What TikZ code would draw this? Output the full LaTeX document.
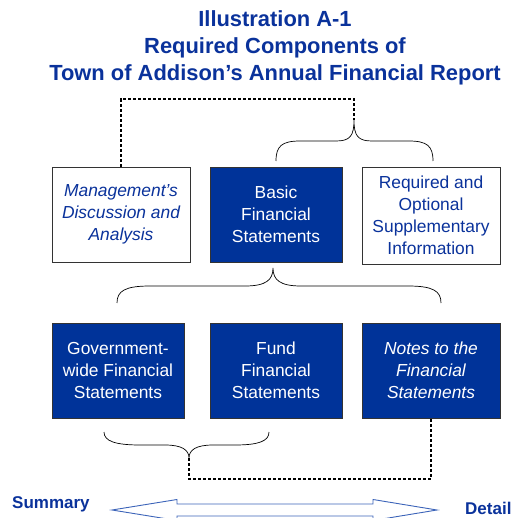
\documentclass[tikz,border=0pt]{standalone}
\usepackage{fontspec}
\setmainfont{Liberation Sans}
\definecolor{darkblue}{RGB}{0,51,153}
\definecolor{titleblue}{RGB}{10,50,155}
\definecolor{arrowblue}{RGB}{60,100,185}
\begin{document}
\begin{tikzpicture}[x=1pt,y=-1pt,
  box/.style={draw=black!80,line width=0.8pt,minimum width=#1,minimum height=95pt,inner sep=0pt,align=center,font=\fontsize{17.4}{22}\selectfont},
  whitebox/.style={box=#1,fill=white,text=titleblue},
  bluebox/.style={box=#1,fill=darkblue,text=white},
  brace/.style={draw=black,line width=0.7pt},
  dashline/.style={draw=black,line width=1.4pt,dash pattern=on 3pt off 2pt},
  ttl/.style={font=\fontsize{21.9}{27}\selectfont\bfseries,text=titleblue,align=center},
  lbl/.style={font=\fontsize{17}{20}\selectfont\bfseries,text=titleblue,inner sep=1pt}]
\useasboundingbox (0,0) rectangle (527,518);
\node[ttl] (title) at (275,48) {Illustration A-1\\Required Components of\\Town of Addison’s Annual Financial Report};
% top row
\node[whitebox=138pt] (mda) at (121,214.5) {\itshape Management’s\\\itshape Discussion and\\\itshape Analysis};
\node[bluebox=132pt] (basic) at (276,214.5) {Basic\\Financial\\Statements};
\node[whitebox=138pt,minimum height=97pt] (rsi) at (431,215.5) {Required and\\Optional\\Supplementary\\Information};
% bottom row
\node[bluebox=132pt] (gov) at (118,370.5) {Government-\\wide Financial\\Statements};
\node[bluebox=132pt] (fund) at (276,370.5) {Fund\\Financial\\Statements};
\node[bluebox=138pt] (notes) at (431,370.5) {\itshape Notes to the\\\itshape Financial\\\itshape Statements};
% top brace
\coordinate (tb) at (354,120);
\path[brace] (276,161) .. controls (276,146) and (282,141) .. (300,141) -- (336,141) .. controls (350,141) and (354,136) .. (tb)
  .. controls (354,136) and (358,141) .. (372,141) -- (409,141) .. controls (427,141) and (433,146) .. (433,161);
\coordinate (tt) at (354,99);
\path[dashline] (mda.north) -- (mda.north |- tt) -- (tt) -- (tb);
% middle brace
\coordinate (mb) at (273,268);
\path[brace] (117,303) .. controls (117,291) and (125,286) .. (150,286) -- (245,286) .. controls (266,286) and (273,280) .. (mb)
  .. controls (273,280) and (280,286) .. (301,286) -- (408,286) .. controls (433,286) and (441,291) .. (441,303);
% bottom brace
\coordinate (bb) at (189,458);
\path[brace] (104,432) .. controls (104,441) and (115,445) .. (140,445) -- (165,445) .. controls (182,445) and (189,450) .. (bb)
  .. controls (189,450) and (196,445) .. (213,445) -- (235,445) .. controls (259,445) and (269,441) .. (269,432);
\coordinate (bl) at (189,479);
\path[dashline] (bb) -- (bl) -- (bl -| notes.south) -- (notes.south);
% labels
\node[lbl,anchor=west] (sum) at (11,504) {Summary};
\node[lbl,anchor=west] (det) at (464,508.5) {Detail};
% double arrow
\path[draw=arrowblue,line width=0.9pt,fill=white,line join=miter]
  (112,510) -- (177,499.5) -- (177,504) -- (373,504) -- (373,499.5) -- (437,510)
  -- (373,520.5) -- (373,516) -- (177,516) -- (177,520.5) -- cycle;
\end{tikzpicture}
\end{document}
